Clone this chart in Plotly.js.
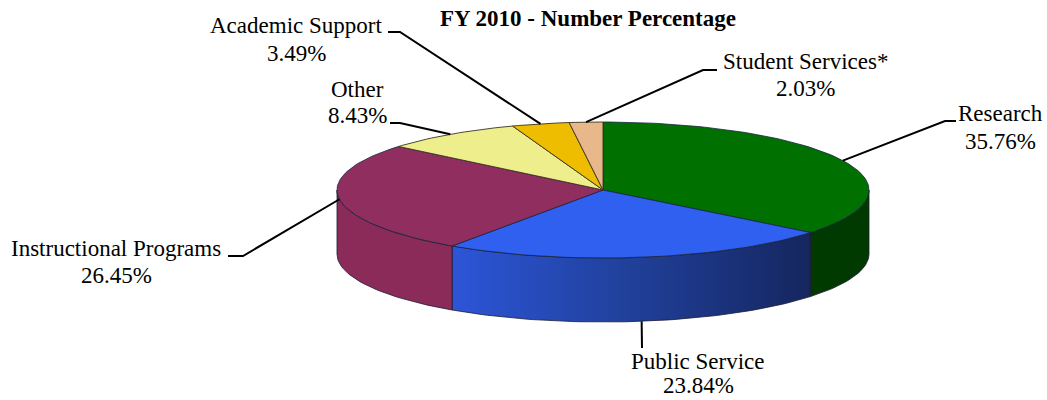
<!DOCTYPE html>
<html><head><meta charset="utf-8">
<script src="https://cdn.plot.ly/plotly-3.0.1.min.js"></script>
<style>html,body{margin:0;padding:0;background:#fff}#c{width:1047px;height:400px}</style>
</head><body><div id="c"></div>
<script>
const categories = ["Research","Public Service","Instructional Programs","Other","Academic Support","Student Services*"];
const percentages = [35.76,23.84,26.45,8.43,3.49,2.03];
const percentLabels = ["35.76%","23.84%","26.45%","8.43%","3.49%","2.03%"];
const topColors = ["#007000","#2f60f0","#8f2e5f","#eeee8c","#eebd00","#e8b88a"];
const wallColors = ["#003a00","#2a50c8","#8a2b5a",null,null,null];

const CX=603, CY=190, RX=266, RY=68, DEPTH=64;
const pt=(deg,dy=0)=>{const a=deg*Math.PI/180;return [CX+RX*Math.sin(a),CY-RY*Math.cos(a)+dy];};
const total=percentages.reduce((a,b)=>a+b,0);
let cum=0;
const slices=percentages.map(v=>{const s=cum/total*360;cum+=v;return {s,e:cum/total*360};});
const arc=(s,e,dy=0)=>{const n=Math.max(2,Math.ceil((e-s)/1.5));const o=[];for(let i=0;i<=n;i++)o.push(pt(s+(e-s)*i/n,dy));return o;};
const traces=[];
const poly=(pts,extra)=>traces.push(Object.assign({type:'scatter',mode:'lines',x:pts.map(p=>p[0]),y:pts.map(p=>p[1]),fill:'toself',hoverinfo:'skip',showlegend:false},extra));

// side walls (front half only)
slices.forEach((sl,i)=>{
  const s=Math.max(sl.s,90), e=Math.min(sl.e,270);
  if(e<=s||!wallColors[i])return;
  const pts=arc(s,e).concat(arc(s,e,DEPTH).reverse());pts.push(pts[0]);
  const extra={fillcolor:wallColors[i],line:{color:'#1a1a30',width:0.8}};
  if(i===1) extra.fillgradient={type:'horizontal',colorscale:[[0,'#2d55d8'],[0.45,'#21429f'],[1,'#15265f']]};
  poly(pts,extra);
});
// top faces
slices.forEach((sl,i)=>{
  const pts=[[CX,CY]].concat(arc(sl.s,sl.e));pts.push([CX,CY]);
  poly(pts,{fillcolor:topColors[i],line:{color:i<3?'#16233f':'#3a3320',width:i<3?0.8:0.9}});
});
// leader lines: start at each slice's mid-angle on the rim
const mids=slices.map(sl=>(sl.s+sl.e)/2);
const elbows=[[[945,121],[956,121]],[[642,348]],[[243,256],[228,256]],[[400,123],[390,123]],[[400,32],[388,32]],[[703,70],[717,70]]];
mids.forEach((m,i)=>{
  const start=pt(m,i===1?DEPTH:0);
  const line=[start].concat(elbows[i]);
  traces.push({type:'scatter',mode:'lines',x:line.map(p=>p[0]),y:line.map(p=>p[1]),line:{color:'#000',width:2},hoverinfo:'skip',showlegend:false});
});
const labelX=[1000,698,116,357,296,805];
const nameY=[113,361,248,89,25,61];
const pctY=[141,385,275,115,53,88];
const serif='"Liberation Serif","Times New Roman",serif';
const ann=(x,y,text)=>({x,y,xref:'x',yref:'y',showarrow:false,xanchor:'center',yanchor:'middle',align:'center',text,font:{family:serif,size:23,color:'#000'}});
const annotations=categories.map((c,i)=>ann(labelX[i],nameY[i],c)).concat(percentLabels.map((p,i)=>ann(labelX[i],pctY[i],p)));
const layout={width:1047,height:400,margin:{l:0,r:0,t:0,b:0},paper_bgcolor:'#fff',plot_bgcolor:'#fff',showlegend:false,
  title:{text:'<b>FY 2010 - Number Percentage</b>',font:{family:serif,size:23,color:'#000'},x:588/1047,xanchor:'center',y:1-18/400,yanchor:'middle'},
  xaxis:{range:[0,1047],visible:false,fixedrange:true},yaxis:{range:[400,0],visible:false,fixedrange:true},annotations};
Plotly.newPlot('c',traces,layout,{displayModeBar:false,staticPlot:true});
</script></body></html>
